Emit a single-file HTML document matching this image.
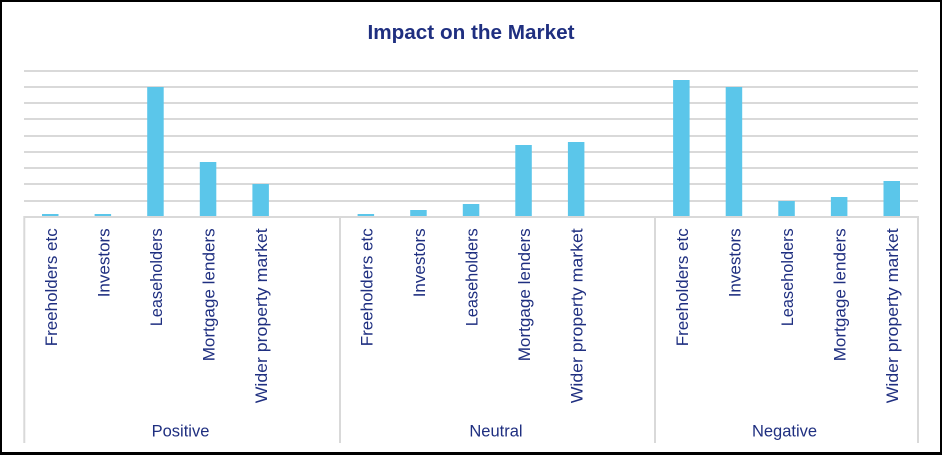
<!DOCTYPE html>
<html><head><meta charset="utf-8"><style>
html,body{margin:0;padding:0;background:#fff;}
svg{display:block;}
text{font-family:"Liberation Sans",Arial,sans-serif;fill:#1f2f80;}
</style></head><body>
<svg width="942" height="455" viewBox="0 0 942 455" xmlns="http://www.w3.org/2000/svg">
<rect x="0" y="0" width="942" height="455" fill="#fff"/>
<!-- border -->
<rect x="0" y="0" width="942" height="2" fill="#000"/>
<rect x="0" y="0" width="2" height="455" fill="#000"/>
<rect x="940" y="0" width="2" height="455" fill="#000"/>
<rect x="0" y="452" width="942" height="3" fill="#000"/>
<!-- title -->
<text x="471" y="39" text-anchor="middle" font-size="20.5" font-weight="bold" textLength="207" lengthAdjust="spacingAndGlyphs">Impact on the Market</text>
<!-- gridlines -->
<g stroke="#d9d9d9" stroke-width="2">
<line x1="24" x2="918" y1="71" y2="71"/>
<line x1="24" x2="918" y1="87" y2="87"/>
<line x1="24" x2="918" y1="103" y2="103"/>
<line x1="24" x2="918" y1="119" y2="119"/>
<line x1="24" x2="918" y1="136" y2="136"/>
<line x1="24" x2="918" y1="152" y2="152"/>
<line x1="24" x2="918" y1="168" y2="168"/>
<line x1="24" x2="918" y1="184" y2="184"/>
<line x1="24" x2="918" y1="201" y2="201"/>
<line x1="24" x2="918" y1="217" y2="217"/>
<line x1="24.3" x2="24.3" y1="216" y2="443"/>
<line x1="340" x2="340" y1="216" y2="443"/>
<line x1="655" x2="655" y1="216" y2="443"/>
<line x1="918" x2="918" y1="216" y2="443"/>
</g>
<!-- bars -->
<g fill="#5bc6ea">
<rect x="42" y="214" width="16.5" height="2"/>
<rect x="94.6" y="214" width="16.5" height="2"/>
<rect x="147.2" y="87" width="16.5" height="129"/>
<rect x="199.8" y="162" width="16.5" height="54"/>
<rect x="252.4" y="184" width="16.5" height="32"/>

<rect x="357.6" y="214" width="16.5" height="2"/>
<rect x="410.2" y="210" width="16.5" height="6"/>
<rect x="462.8" y="204" width="16.5" height="12"/>
<rect x="515.3" y="145" width="16.5" height="71"/>
<rect x="567.9" y="142" width="16.5" height="74"/>

<rect x="673.1" y="80" width="16.5" height="136"/>
<rect x="725.7" y="87" width="16.5" height="129"/>
<rect x="778.3" y="201" width="16.5" height="15"/>
<rect x="830.9" y="197" width="16.5" height="19"/>
<rect x="883.5" y="181" width="16.5" height="35"/>
</g>
<!-- category labels -->
<g font-size="16.5" text-anchor="end">
<text transform="translate(56.8,228.3) rotate(-90)" textLength="118" lengthAdjust="spacingAndGlyphs">Freeholders etc</text>
<text transform="translate(109.4,228.3) rotate(-90)" textLength="69" lengthAdjust="spacingAndGlyphs">Investors</text>
<text transform="translate(162,228.3) rotate(-90)" textLength="98" lengthAdjust="spacingAndGlyphs">Leaseholders</text>
<text transform="translate(214.6,228.3) rotate(-90)" textLength="133" lengthAdjust="spacingAndGlyphs">Mortgage lenders</text>
<text transform="translate(267.2,228.3) rotate(-90)" textLength="175" lengthAdjust="spacingAndGlyphs">Wider property market</text>

<text transform="translate(372.3,228.3) rotate(-90)" textLength="118" lengthAdjust="spacingAndGlyphs">Freeholders etc</text>
<text transform="translate(424.9,228.3) rotate(-90)" textLength="69" lengthAdjust="spacingAndGlyphs">Investors</text>
<text transform="translate(477.5,228.3) rotate(-90)" textLength="98" lengthAdjust="spacingAndGlyphs">Leaseholders</text>
<text transform="translate(530.1,228.3) rotate(-90)" textLength="133" lengthAdjust="spacingAndGlyphs">Mortgage lenders</text>
<text transform="translate(582.7,228.3) rotate(-90)" textLength="175" lengthAdjust="spacingAndGlyphs">Wider property market</text>

<text transform="translate(687.9,228.3) rotate(-90)" textLength="118" lengthAdjust="spacingAndGlyphs">Freeholders etc</text>
<text transform="translate(740.4,228.3) rotate(-90)" textLength="69" lengthAdjust="spacingAndGlyphs">Investors</text>
<text transform="translate(793,228.3) rotate(-90)" textLength="98" lengthAdjust="spacingAndGlyphs">Leaseholders</text>
<text transform="translate(845.6,228.3) rotate(-90)" textLength="133" lengthAdjust="spacingAndGlyphs">Mortgage lenders</text>
<text transform="translate(898.2,228.3) rotate(-90)" textLength="175" lengthAdjust="spacingAndGlyphs">Wider property market</text>
</g>
<!-- group labels -->
<g font-size="16.5" text-anchor="middle">
<text x="180.5" y="436.7">Positive</text>
<text x="496" y="436.7">Neutral</text>
<text x="784.5" y="436.7">Negative</text>
</g>
</svg>
</body></html>
